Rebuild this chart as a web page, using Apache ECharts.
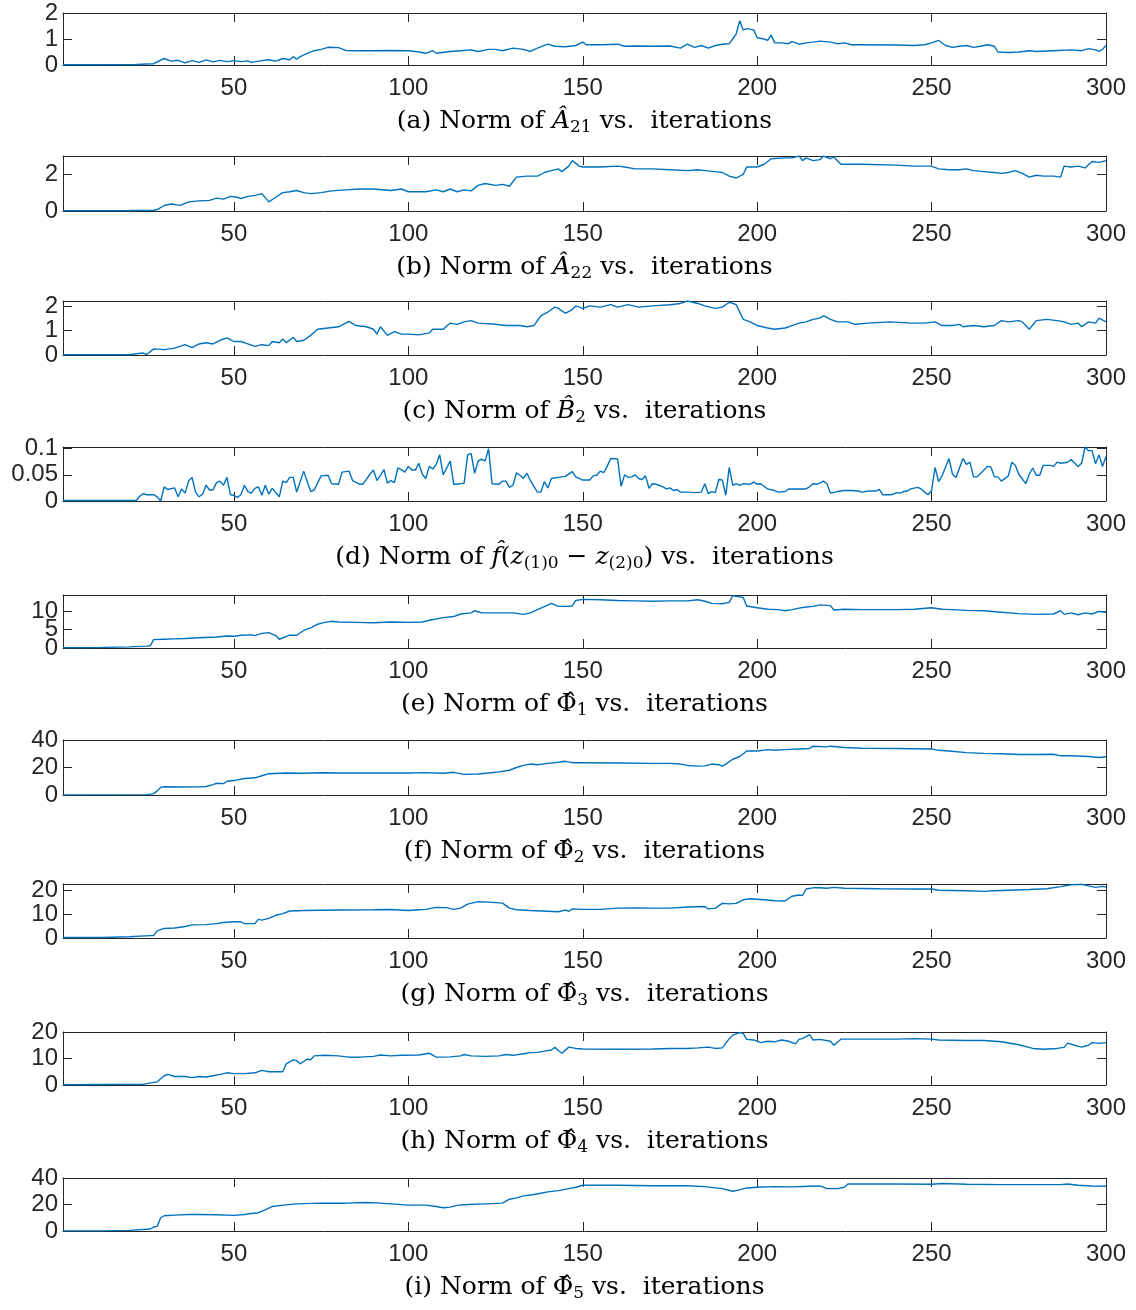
<!DOCTYPE html>
<html>
<head>
<meta charset="utf-8">
<script src="https://cdn.jsdelivr.net/npm/echarts@6/dist/echarts.min.js"></script>
<style>
  html, body { margin: 0; padding: 0; background: #ffffff; }
  #chart { width: 1136px; height: 1310px; }
</style>
</head>
<body>
<div id="chart"></div>
<script>
// Iteration ticks shared by every panel
const iterTicks = [50, 100, 150, 200, 250, 300];

// [iteration, norm] vertices for each estimated quantity
const normA21 = [[1,0.01],[10,0.01],[20,0.015],[22,0.02],[25,0.04],[27,0.05],[30,0.25],[32,0.15],[34,0.18],[36,0.08],[38,0.17],[40,0.1],[42,0.2],[44,0.12],[46,0.18],[48,0.13],[50,0.17],[52,0.13],[54,0.16],[55,0.1],[58,0.17],[60,0.2],[62,0.15],[64,0.25],[66,0.2],[67,0.32],[68,0.22],[69,0.32],[71,0.45],[73,0.55],[75,0.6],[77,0.68],[80,0.67],[82,0.56],[85,0.55],[90,0.55],[95,0.56],[100,0.55],[103,0.5],[105,0.45],[107,0.55],[108,0.45],[112,0.52],[115,0.55],[118,0.58],[120,0.52],[123,0.6],[125,0.6],[127,0.55],[130,0.65],[133,0.6],[135,0.52],[137,0.65],[140,0.8],[142,0.72],[145,0.7],[148,0.75],[150,0.88],[151,0.78],[155,0.78],[160,0.8],[162,0.72],[165,0.73],[170,0.72],[175,0.73],[178,0.65],[180,0.8],[182,0.68],[184,0.75],[186,0.65],[188,0.75],[190,0.8],[192,0.82],[193,1.0],[194,1.2],[195,1.7],[196,1.35],[197,1.4],[199,1.35],[200,1.05],[202,1.0],[203,0.95],[204,1.15],[205,0.85],[207,0.85],[209,0.82],[210,0.9],[212,0.8],[214,0.85],[216,0.88],[218,0.92],[221,0.88],[223,0.82],[225,0.85],[227,0.78],[230,0.78],[240,0.77],[245,0.75],[248,0.78],[250,0.85],[252,0.95],[254,0.75],[256,0.68],[258,0.72],[260,0.75],[262,0.68],[264,0.72],[266,0.78],[268,0.72],[269,0.5],[272,0.48],[275,0.5],[278,0.55],[280,0.52],[285,0.55],[290,0.58],[293,0.55],[295,0.63],[297,0.58],[298,0.52],[299,0.6],[300,0.75]];

const normA22 = [[1,0.02],[10,0.02],[20,0.03],[27,0.04],[28,0.08],[30,0.3],[32,0.38],[34,0.32],[35,0.33],[37,0.5],[40,0.55],[43,0.58],[45,0.7],[47,0.65],[49,0.8],[51,0.75],[52,0.68],[54,0.8],[56,0.85],[58,0.95],[60,0.5],[62,0.75],[64,1.0],[66,1.05],[68,1.12],[70,1.0],[72,0.95],[75,1.0],[78,1.1],[82,1.15],[86,1.2],[90,1.2],[95,1.12],[98,1.2],[100,1.05],[105,1.05],[108,1.15],[110,1.05],[112,1.2],[114,1.05],[116,1.15],[118,1.1],[120,1.4],[122,1.5],[125,1.4],[127,1.45],[129,1.35],[131,1.85],[134,1.9],[137,1.9],[139,2.1],[141,2.2],[143,2.3],[144,2.15],[145,2.3],[146,2.45],[147,2.75],[148,2.6],[149,2.45],[150,2.4],[155,2.4],[160,2.45],[162,2.4],[165,2.3],[170,2.3],[175,2.25],[180,2.2],[183,2.25],[185,2.2],[188,2.15],[190,2.1],[192,1.9],[194,1.8],[196,2.0],[197,2.4],[200,2.4],[202,2.55],[204,2.85],[208,2.9],[210,2.9],[212,3.0],[213,2.75],[214,2.9],[216,2.75],[218,2.8],[219,3.0],[221,2.85],[222,2.95],[224,2.55],[230,2.55],[240,2.5],[245,2.45],[250,2.45],[252,2.3],[255,2.25],[258,2.25],[260,2.3],[262,2.2],[265,2.15],[268,2.1],[270,2.05],[272,2.1],[274,2.2],[276,2.05],[278,1.85],[280,1.95],[282,1.9],[285,1.9],[287,1.85],[288,2.45],[290,2.4],[292,2.45],[294,2.35],[296,2.7],[298,2.65],[300,2.75]];

const normB2 = [[1,0.01],[20,0.01],[22,0.05],[24,0.08],[25,0.02],[27,0.25],[30,0.22],[33,0.28],[36,0.42],[38,0.3],[40,0.45],[42,0.5],[44,0.45],[46,0.6],[48,0.7],[50,0.55],[52,0.55],[54,0.45],[56,0.35],[58,0.42],[60,0.38],[61,0.55],[63,0.5],[64,0.65],[65,0.5],[67,0.72],[68,0.55],[70,0.6],[72,0.8],[74,1.05],[77,1.1],[80,1.15],[83,1.37],[85,1.2],[88,1.15],[90,1.05],[91,0.85],[92,1.15],[94,0.8],[96,0.95],[98,0.85],[100,0.85],[103,0.82],[106,0.9],[107,1.05],[110,1.05],[112,1.3],[114,1.25],[116,1.35],[118,1.4],[120,1.3],[125,1.25],[128,1.2],[132,1.2],[134,1.15],[136,1.2],[138,1.6],[140,1.75],[142,1.95],[143,1.9],[145,1.7],[147,1.85],[148,2.0],[150,1.9],[152,2.0],[155,1.95],[158,2.05],[160,1.95],[163,2.05],[166,1.95],[170,2.0],[175,2.05],[178,2.1],[180,2.2],[183,2.1],[185,2.0],[188,1.9],[190,1.95],[192,2.15],[194,2.05],[196,1.45],[198,1.35],[200,1.2],[203,1.1],[205,1.05],[208,1.1],[210,1.2],[212,1.3],[214,1.35],[216,1.45],[218,1.5],[219,1.6],[221,1.45],[223,1.35],[226,1.35],[228,1.25],[232,1.3],[238,1.35],[244,1.3],[248,1.3],[251,1.35],[253,1.2],[256,1.2],[258,1.25],[259,1.15],[262,1.2],[265,1.15],[268,1.2],[270,1.4],[272,1.35],[275,1.4],[276,1.35],[278,1.05],[280,1.4],[283,1.45],[286,1.4],[288,1.35],[290,1.25],[292,1.3],[293,1.15],[295,1.35],[297,1.3],[298,1.5],[300,1.35]];

const normF = [[1,0.001],[22,0.001],[23,0.009],[24,0.014],[25,0.012],[27,0.012],[28,0.008],[29,0],[30,0.027],[31,0.022],[33,0.025],[34,0.008],[35,0.023],[36,0.015],[37,0.038],[38,0.045],[39,0.017],[40,0.008],[41,0.013],[42,0.03],[43,0.021],[44,0.021],[45,0.035],[46,0.038],[47,0.03],[48,0.045],[49,0.012],[50,0.011],[51,0.007],[52,0.012],[53,0.03],[54,0.018],[55,0.015],[56,0.024],[57,0.027],[58,0.011],[59,0.03],[60,0.013],[61,0.024],[63,0.008],[64,0.038],[65,0.035],[66,0.045],[67,0.045],[68,0.017],[70,0.057],[72,0.018],[73,0.021],[75,0.048],[77,0.049],[78,0.033],[80,0.032],[81,0.055],[83,0.057],[84,0.039],[86,0.032],[87,0.032],[89,0.051],[90,0.059],[91,0.039],[92,0.049],[93,0.06],[94,0.034],[95,0.039],[96,0.035],[97,0.063],[98,0.06],[99,0.055],[100,0.066],[101,0.059],[102,0.059],[103,0.072],[104,0.051],[105,0.043],[106,0.066],[107,0.061],[108,0.07],[109,0.088],[110,0.05],[112,0.076],[113,0.032],[114,0.032],[116,0.034],[117,0.088],[118,0.091],[119,0.053],[120,0.076],[121,0.08],[122,0.076],[123,0.1],[124,0.033],[126,0.032],[127,0.038],[128,0.038],[129,0.026],[130,0.03],[131,0.054],[132,0.049],[133,0.043],[134,0.053],[135,0.039],[137,0.017],[138,0.017],[139,0.037],[140,0.025],[141,0.043],[143,0.045],[145,0.047],[147,0.056],[148,0.046],[150,0.04],[152,0.04],[153,0.048],[154,0.049],[155,0.057],[156,0.054],[157,0.066],[158,0.081],[160,0.08],[161,0.028],[162,0.05],[163,0.045],[164,0.046],[165,0.05],[166,0.043],[167,0.041],[168,0.048],[169,0.024],[170,0.033],[171,0.032],[173,0.027],[174,0.023],[175,0.025],[176,0.02],[177,0.022],[178,0.017],[180,0.017],[182,0.016],[184,0.017],[185,0.033],[186,0.014],[187,0.018],[188,0.016],[189,0.041],[190,0.04],[191,0.011],[192,0.064],[193,0.03],[194,0.033],[195,0.03],[196,0.033],[198,0.032],[199,0.036],[200,0.032],[201,0.033],[203,0.023],[205,0.02],[206,0.017],[208,0.018],[209,0.023],[214,0.023],[215,0.027],[216,0.033],[217,0.032],[218,0.034],[219,0.038],[220,0.033],[221,0.015],[223,0.018],[225,0.02],[227,0.02],[229,0.019],[230,0.017],[232,0.019],[234,0.019],[235,0.022],[236,0.012],[238,0.012],[239,0.013],[240,0.016],[241,0.015],[242,0.018],[243,0.019],[244,0.023],[246,0.026],[247,0.023],[248,0.017],[249,0.012],[250,0.02],[251,0.064],[252,0.037],[253,0.048],[255,0.081],[256,0.051],[257,0.045],[259,0.081],[260,0.07],[261,0.074],[262,0.046],[263,0.046],[265,0.059],[266,0.066],[267,0.065],[268,0.046],[269,0.046],[270,0.038],[272,0.048],[273,0.074],[274,0.068],[275,0.051],[277,0.033],[278,0.051],[279,0.063],[280,0.049],[281,0.049],[282,0.068],[284,0.068],[285,0.066],[286,0.074],[287,0.072],[289,0.074],[290,0.079],[292,0.066],[293,0.072],[294,0.103],[295,0.096],[296,0.096],[297,0.071],[298,0.088],[299,0.066],[300,0.085]];

const normPhi1 = [[1,0.05],[10,0.1],[20,0.3],[25,0.5],[26,0.6],[27,2.3],[30,2.4],[33,2.5],[36,2.6],[40,2.8],[45,3.0],[48,3.3],[50,3.2],[52,3.5],[55,3.6],[56,3.4],[58,4.0],[60,4.2],[62,3.4],[63,2.4],[66,3.5],[68,3.5],[70,4.8],[72,5.5],[74,6.5],[76,7.0],[78,7.3],[80,7.1],[85,7.0],[90,6.9],[95,7.1],[100,7.0],[104,7.1],[106,7.6],[110,8.3],[113,8.6],[115,9.3],[118,9.6],[119,10.2],[121,9.6],[125,9.6],[130,9.6],[133,9.2],[135,9.6],[137,10.5],[139,11.3],[141,12.2],[143,11.4],[145,11.4],[147,11.5],[148,13.0],[150,13.3],[155,13.2],[160,13.0],[165,12.9],[170,12.8],[175,12.9],[180,12.9],[183,13.2],[185,12.8],[187,12.2],[190,12.1],[192,12.5],[193,14.3],[195,14.0],[196,13.8],[197,11.5],[200,11.0],[203,10.6],[206,10.5],[208,10.2],[210,10.5],[212,10.9],[214,11.2],[216,11.4],[218,11.8],[221,11.6],[222,10.4],[225,10.6],[230,10.5],[240,10.5],[245,10.6],[250,11.0],[253,10.6],[256,10.5],[260,10.3],[265,10.2],[270,9.8],[275,9.4],[280,9.2],[285,9.3],[287,10.2],[288,9.2],[290,9.6],[292,9.1],[294,9.6],[296,9.3],[298,10.0],[300,9.8]];

const normPhi2 = [[1,0.1],[25,0.3],[27,1.0],[28,3],[29,5.5],[30,6.0],[35,5.8],[40,5.9],[42,6.2],[44,7.5],[45,8.5],[47,8.3],[48,10.0],[50,10.5],[53,12.0],[56,12.5],[58,14.0],[60,15.5],[65,16.0],[70,15.8],[75,16.2],[80,16.0],[90,16.0],[100,16.0],[105,16.3],[110,15.8],[113,16.5],[116,15.0],[120,15.3],[123,16.0],[126,16.8],[129,18.0],[131,20.0],[133,21.5],[135,22.5],[137,22.0],[140,23.0],[143,23.8],[145,24.5],[147,23.5],[150,23.5],[160,23.3],[170,23.0],[175,23.0],[178,22.5],[180,21.5],[183,21.0],[185,21.2],[187,22.5],[189,22.0],[190,21.0],[191,22.5],[193,26.0],[195,28.0],[197,32.0],[200,32.0],[203,33.0],[205,32.5],[208,33.0],[212,33.5],[215,33.8],[216,35.5],[220,35.0],[221,35.5],[225,34.5],[230,34.0],[240,33.8],[250,33.5],[252,32.5],[255,32.0],[260,30.8],[265,30.3],[270,30.0],[275,29.5],[280,29.5],[285,29.6],[287,28.5],[290,28.5],[295,28.0],[298,27.3],[300,27.8]];

const normPhi3 = [[1,0.2],[12,0.2],[20,0.5],[26,1.0],[27,1.0],[28,3.0],[30,4.0],[33,4.2],[36,4.8],[38,5.5],[42,5.6],[45,6.0],[47,6.5],[50,6.8],[52,6.8],[53,6.0],[56,6.0],[57,7.8],[58,7.5],[60,8.2],[62,9.5],[64,10.2],[66,11.3],[70,11.5],[80,11.7],[90,11.8],[95,11.9],[100,11.5],[103,11.8],[105,12.0],[108,12.8],[111,12.7],[113,12.0],[115,12.5],[117,14.2],[120,15.2],[123,15.0],[127,14.6],[129,12.5],[131,11.8],[135,11.5],[140,11.2],[143,11.0],[145,11.8],[146,11.2],[147,12.2],[150,12.0],[155,12.0],[160,12.5],[165,12.6],[170,12.5],[175,12.5],[180,13.0],[185,13.2],[186,12.2],[188,12.5],[190,14.5],[192,14.3],[194,14.5],[196,16.0],[198,16.4],[202,16.0],[205,15.6],[208,15.5],[210,17.5],[212,18.0],[213,17.8],[214,20.5],[216,21.0],[218,21.0],[220,20.8],[222,21.2],[225,20.8],[235,20.6],[245,20.5],[250,20.5],[252,20.0],[260,19.8],[265,19.5],[268,19.8],[272,20.0],[278,20.3],[283,20.6],[287,21.5],[290,22.3],[293,22.5],[295,21.8],[297,21.2],[299,21.6],[300,21.3]];

const normPhi4 = [[1,0.1],[24,0.3],[25,0.5],[27,1.0],[28,1.2],[30,3.5],[31,4.0],[33,3.2],[36,3.2],[38,2.8],[40,3.2],[42,3.0],[44,3.5],[46,4.0],[48,4.6],[50,4.3],[53,4.3],[56,4.6],[58,5.5],[60,5.0],[64,5.0],[65,8.0],[67,9.5],[68,9.2],[69,8.0],[71,9.8],[72,9.5],[73,11.0],[76,11.2],[80,11.0],[83,10.5],[86,10.5],[90,10.8],[92,11.3],[95,11.0],[98,11.2],[103,11.3],[106,12.0],[108,10.5],[112,10.6],[115,11.0],[116,11.5],[118,11.0],[122,10.8],[126,11.0],[128,11.5],[130,11.2],[133,11.8],[135,12.2],[137,12.3],[139,12.8],[141,13.2],[142,14.2],[143,13.0],[144,12.0],[146,14.3],[148,13.8],[150,13.6],[160,13.5],[170,13.6],[175,13.8],[180,13.8],[183,14.0],[186,14.3],[188,13.8],[190,14.0],[192,17.5],[193,18.8],[195,19.8],[196,19.5],[197,17.2],[199,17.0],[201,16.0],[203,16.5],[205,16.3],[207,17.0],[209,16.5],[211,15.5],[212,17.2],[213,17.5],[215,19.0],[216,17.0],[218,17.2],[221,16.5],[222,15.0],[224,17.3],[230,17.3],[240,17.3],[245,17.5],[250,17.3],[252,17.0],[260,16.8],[265,16.8],[270,16.3],[275,15.2],[279,13.8],[282,13.5],[286,13.8],[288,14.2],[289,15.8],[291,15.0],[293,14.3],[295,15.0],[296,16.0],[298,15.7],[300,16.0]];

const normPhi5 = [[1,0.1],[12,0.1],[20,0.5],[26,1.5],[27,3.0],[28,3.5],[29,10.0],[30,11.5],[33,12.0],[37,12.5],[40,12.5],[45,12.3],[50,11.8],[53,12.5],[55,13.2],[57,13.8],[59,16.0],[61,18.5],[64,19.5],[68,20.5],[75,21.0],[82,21.0],[88,21.5],[92,21.0],[95,20.5],[100,19.5],[105,19.5],[108,18.5],[110,17.5],[112,18.0],[114,19.3],[117,20.0],[122,20.5],[127,21.0],[129,24.0],[131,25.0],[133,26.5],[136,27.5],[138,28.5],[140,29.5],[143,30.5],[146,32.0],[148,33.0],[150,34.5],[160,34.5],[170,34.2],[180,34.2],[185,33.5],[190,32.0],[193,30.0],[195,31.0],[197,32.5],[200,33.0],[205,33.5],[210,33.3],[215,33.8],[218,34.0],[220,32.0],[223,32.0],[225,33.0],[226,35.5],[230,35.5],[240,35.5],[250,35.3],[253,35.8],[260,35.3],[270,35.0],[280,35.0],[287,35.0],[289,35.5],[292,34.5],[296,34.0],[300,33.8]];

// Vertical tick values and upper limits per panel
const yTicksA21 = [0, 1, 2],       yMaxA21 = 2;
const yTicksA22 = [0, 2],          yMaxA22 = 3;
const yTicksB2 = [0, 1, 2],        yMaxB2 = 2.2;
const yTicksF = [0, 0.05, 0.1],    yMaxF = 0.103;
const yTicksPhi1 = [0, 5, 10],     yMaxPhi1 = 14.5;
const yTicksPhi2 = [0, 20, 40],    yMaxPhi2 = 40;
const yTicksPhi3 = [0, 10, 20],    yMaxPhi3 = 22.6;
const yTicksPhi4 = [0, 10, 20],    yMaxPhi4 = 20;
const yTicksPhi5 = [0, 20, 40],    yMaxPhi5 = 40;

// Captions (rich text: it = italic symbol, rm = upright symbol, sub = subscript)
const captions = [
  '(a) Norm of {it|Â}{sub|21} vs.  iterations',
  '(b) Norm of {it|Â}{sub|22} vs.  iterations',
  '(c) Norm of {it|B\u0302}{sub|2} vs.  iterations',
  '(d) Norm of {it|f\u0302}({it|z}{sub|(1)0} \u2212 {it|z}{sub|(2)0}) vs.  iterations',
  '(e) Norm of {rm|\u03A6\u0302}{sub|1} vs.  iterations',
  '(f) Norm of {rm|\u03A6\u0302}{sub|2} vs.  iterations',
  '(g) Norm of {rm|\u03A6\u0302}{sub|3} vs.  iterations',
  '(h) Norm of {rm|\u03A6\u0302}{sub|4} vs.  iterations',
  '(i) Norm of {rm|\u03A6\u0302}{sub|5} vs.  iterations'
];

const panels = [
  { data: normA21,  yTicks: yTicksA21,  yMax: yMaxA21,  top: 13,   bottom: 65 },
  { data: normA22,  yTicks: yTicksA22,  yMax: yMaxA22,  top: 156,  bottom: 211 },
  { data: normB2,   yTicks: yTicksB2,   yMax: yMaxB2,   top: 301,  bottom: 355 },
  { data: normF,    yTicks: yTicksF,    yMax: yMaxF,    top: 447,  bottom: 501 },
  { data: normPhi1, yTicks: yTicksPhi1, yMax: yMaxPhi1, top: 595,  bottom: 648 },
  { data: normPhi2, yTicks: yTicksPhi2, yMax: yMaxPhi2, top: 740,  bottom: 795 },
  { data: normPhi3, yTicks: yTicksPhi3, yMax: yMaxPhi3, top: 884,  bottom: 938 },
  { data: normPhi4, yTicks: yTicksPhi4, yMax: yMaxPhi4, top: 1032, bottom: 1085 },
  { data: normPhi5, yTicks: yTicksPhi5, yMax: yMaxPhi5, top: 1178, bottom: 1231 }
];

const AXIS_COLOR = '#262626';
const LINE_COLOR = '#0072BD';
const SANS = '"Liberation Sans", Arial, Helvetica, sans-serif';
const SERIF = '"DejaVu Serif", "Liberation Serif", serif';
const PLOT_LEFT = 63, PLOT_RIGHT = 1106;

const grid = [], xAxis = [], yAxis = [], series = [], graphic = [];

panels.forEach((p, i) => {
  grid.push({ left: PLOT_LEFT, top: p.top, width: PLOT_RIGHT - PLOT_LEFT, height: p.bottom - p.top, containLabel: false });

  const axisLine = { show: true, onZero: false, lineStyle: { color: AXIS_COLOR, width: 1 } };
  const tickStyle = { color: AXIS_COLOR, width: 1 };
  const labelStyle = { color: AXIS_COLOR, fontSize: 24, fontFamily: SANS, hideOverlap: false, showMinLabel: true, showMaxLabel: true };

  ['bottom', 'top'].forEach(pos => {
    xAxis.push({
      type: 'value', gridIndex: i, position: pos, min: 1, max: 300,
      axisLine,
      axisTick: { show: true, inside: true, length: 9, customValues: iterTicks, lineStyle: tickStyle },
      axisLabel: pos === 'bottom'
        ? Object.assign({ show: true, margin: 11, customValues: iterTicks }, labelStyle)
        : { show: false },
      splitLine: { show: false }
    });
  });

  // Left axis carries the ticks plus every other label; a line-less companion
  // axis on the same side carries the remaining labels so that tightly packed
  // labels are never dropped.
  const evenLabels = p.yTicks.filter((_, k) => k % 2 === 0);
  const oddLabels = p.yTicks.filter((_, k) => k % 2 === 1);
  yAxis.push({
    type: 'value', gridIndex: i, position: 'left', min: 0, max: p.yMax,
    axisLine,
    axisTick: { show: true, inside: true, length: 9, customValues: p.yTicks, lineStyle: tickStyle },
    axisLabel: Object.assign({ show: true, margin: 5, customValues: evenLabels }, labelStyle),
    splitLine: { show: false }
  });
  yAxis.push({
    type: 'value', gridIndex: i, position: 'right', min: 0, max: p.yMax,
    axisLine,
    axisTick: { show: true, inside: true, length: 9, customValues: p.yTicks, lineStyle: tickStyle },
    axisLabel: { show: false },
    splitLine: { show: false }
  });
  yAxis.push({
    type: 'value', gridIndex: i, position: 'left', offset: 0, min: 0, max: p.yMax,
    axisLine: { show: false, onZero: false },
    axisTick: { show: false },
    axisLabel: Object.assign({ show: oddLabels.length > 0, margin: 5, customValues: oddLabels.length ? oddLabels : [0] }, labelStyle),
    splitLine: { show: false }
  });

  series.push({
    type: 'line',
    xAxisIndex: 2 * i,
    yAxisIndex: 3 * i,
    data: p.data,
    symbol: 'none',
    showSymbol: false,
    clip: true,
    silent: true,
    lineStyle: { color: LINE_COLOR, width: 1.4 }
  });

  graphic.push({
    type: 'text',
    x: (PLOT_LEFT + PLOT_RIGHT) / 2,
    y: p.bottom + 56,
    silent: true,
    style: {
      text: captions[i],
      align: 'center',
      verticalAlign: 'middle',
      fill: '#000000',
      fontFamily: SERIF,
      fontSize: 25,
      lineHeight: 30,
      rich: {
        it: { fontFamily: SERIF, fontSize: 25, fontStyle: 'italic', fill: '#000000' },
        rm: { fontFamily: SERIF, fontSize: 25, fill: '#000000' },
        sub: { fontFamily: SERIF, fontSize: 17, lineHeight: 12, verticalAlign: 'bottom', fill: '#000000' }
      }
    }
  });
});

const chart = echarts.init(document.getElementById('chart'), null, { renderer: 'canvas' });
chart.setOption({
  animation: false,
  backgroundColor: '#ffffff',
  grid, xAxis, yAxis, series, graphic
});
</script>
</body>
</html>
